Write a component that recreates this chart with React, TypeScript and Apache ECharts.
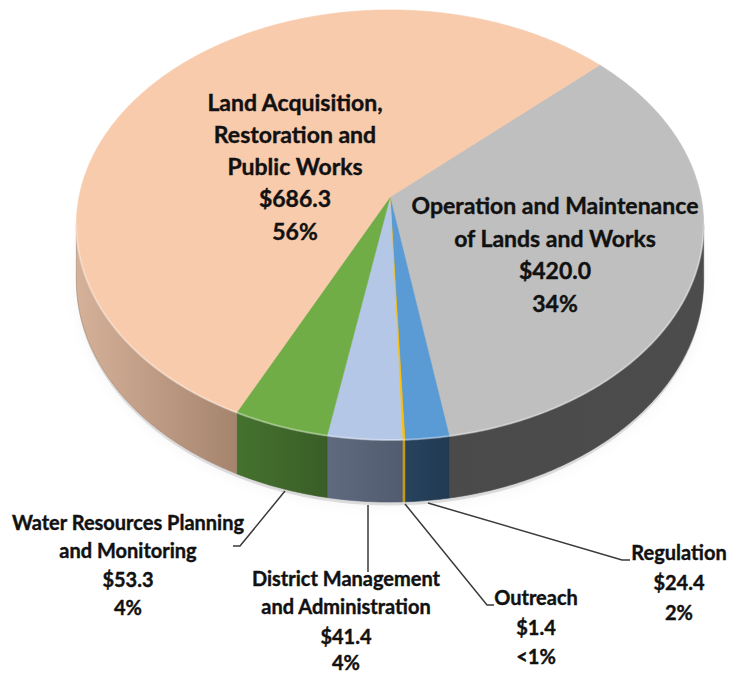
import React, { useEffect, useRef } from "react";
import * as echarts from "echarts";

// ---- data (clockwise from the top-right boundary) ----
const categories = [
  "Operation and Maintenance of Lands and Works",
  "Regulation",
  "Outreach",
  "District Management and Administration",
  "Water Resources Planning and Monitoring",
  "Land Acquisition, Restoration and Public Works",
];
const labelNameLines = [
  ["Operation and Maintenance", "of Lands and Works"],
  ["Regulation"],
  ["Outreach"],
  ["District Management", "and Administration"],
  ["Water Resources Planning", "and Monitoring"],
  ["Land Acquisition,", "Restoration and", "Public Works"],
];
const values = [420.0, 24.4, 1.4, 41.4, 53.3, 686.3];
const percentLabels = ["34%", "2%", "<1%", "4%", "4%", "56%"];

// ---- styles / layout ----
const topColors = ["#BFBFBF", "#5B9BD5", "#FFC000", "#B4C7E7", "#70AD47", "#F8CBAD"];
const sideColors = [
  ["#4a4a4a", "#4c4c4c"],
  ["#27435e", "#223a52"],
  ["#c99a10", "#c99a10"],
  ["#5f6a80", "#525c70"],
  ["#45722e", "#3a5d27"],
  ["#d6b199", "#a5846e"],
];
const labelLayout = [
  { x: 555, ys: [205, 237.5, 270, 302.5], size: 23 },
  { x: 679, ys: [552, 582, 612], size: 20 },
  { x: 536, ys: [597, 627, 656], size: 20 },
  { x: 346, ys: [578, 606, 636, 662], size: 20 },
  { x: 128, ys: [522, 550, 579, 607], size: 20 },
  { x: 295, ys: [102, 133.5, 165.5, 198, 231], size: 23 },
];
const leaderLines: (number[][] | null)[] = [
  null,
  [[428, 503], [622, 560], [630, 560]],
  [[405, 504], [487, 605], [494, 605]],
  [[368, 505], [368, 572]],
  [[285, 491], [240, 546], [233, 546]],
  null,
];

const CX = 390, CY = 197, AX = 311, BY = 211.4, K = 0.13, DEPTH = 54;
const START_DEG = -42.8;
const FONT = "Lato, 'Open Sans', sans-serif";

function proj(theta: number, drop = 0): number[] {
  const u = Math.cos(theta), v = Math.sin(theta);
  const w = 1 - K * v;
  return [CX + (AX * u) / w, CY + (BY * v + drop) / w];
}

export default function App() {
  const ref = useRef<HTMLDivElement>(null);
  useEffect(() => {
    if (!ref.current) return;
    const chart = echarts.init(ref.current, undefined, { renderer: "svg" });
    const total = values.reduce((a, b) => a + b, 0);
    const starts: number[] = [];
    let acc = START_DEG;
    values.forEach((v) => {
      starts.push(acc);
      acc += (v / total) * 360;
    });
    const rad = (d: number) => (d * Math.PI) / 180;
    const visA = rad(7.5), visB = rad(172.5);

    const renderItem = (params: any) => {
      const i = params.dataIndex;
      const a1 = rad(starts[i]);
      const a2 = rad(starts[i] + (values[i] / total) * 360);
      const children: any[] = [];
      const top: number[][] = [[CX, CY]];
      const n = Math.max(2, Math.ceil((a2 - a1) / rad(0.5)));
      for (let s = 0; s <= n; s++) top.push(proj(a1 + ((a2 - a1) * s) / n));
      const b1 = Math.max(a1, visA), b2 = Math.min(a2, visB);
      if (b2 > b1) {
        const m = Math.max(2, Math.ceil((b2 - b1) / rad(0.5)));
        const upper: number[][] = [], lower: number[][] = [];
        for (let s = 0; s <= m; s++) {
          const t = b1 + ((b2 - b1) * s) / m;
          upper.push(proj(t));
          lower.push(proj(t, DEPTH));
        }
        const pts = upper.concat(lower.slice().reverse());
        const c = sideColors[i];
        children.push({
          type: "polygon",
          z2: 1,
          shape: { points: pts },
          style: {
            fill: new echarts.graphic.LinearGradient(0, 0, 1, 0, [
              { offset: 0, color: c[0] },
              { offset: 1, color: c[1] },
            ]),
            stroke: c[1],
            lineWidth: 0.6,
          },
        });
        children.push({
          type: "polyline",
          z2: 12,
          shape: { points: upper.slice() },
          style: { stroke: "rgba(255,255,255,0.35)", lineWidth: 2, fill: null },
        });
      }
      children.push({
        type: "polygon",
        z2: 10,
        shape: { points: top },
        style: { fill: topColors[i], stroke: topColors[i], lineWidth: 0.6 },
      });
      return { type: "group", children };
    };

    const shadowPts: number[][] = [];
    for (let s = 0; s <= 360; s += 2) shadowPts.push(proj(rad(s), DEPTH + 3));

    const graphics: any[] = [
      {
        type: "polygon",
        z: -1,
        shape: { points: shadowPts },
        style: {
          fill: "rgba(0,0,0,0.12)",
          shadowBlur: 14,
          shadowColor: "rgba(0,0,0,0.35)",
        },
      },
    ];
    leaderLines.forEach((pts) => {
      if (!pts) return;
      graphics.push({
        type: "polyline",
        z: 20,
        shape: { points: pts },
        style: { stroke: "#3a3a3a", lineWidth: 1.5, fill: null },
      });
    });
    values.forEach((v, i) => {
      const L = labelLayout[i];
      const lines = labelNameLines[i].concat(["$" + v.toFixed(1), percentLabels[i]]);
      lines.forEach((t, j) => {
        graphics.push({
          type: "text",
          z: 21,
          x: L.x,
          y: L.ys[j],
          style: {
            text: t,
            font: `bold ${L.size}px ${FONT}`,
            fill: "#111",
            stroke: "#111",
            lineWidth: 0.4,
            align: "center",
            verticalAlign: "middle",
          },
        });
      });
    });

    chart.setOption({
      animation: false,
      backgroundColor: "#ffffff",
      series: [
        {
          type: "custom",
          name: "Expenditures",
          coordinateSystem: "none",
          renderItem,
          data: values.map((v, i) => ({ name: categories[i], value: v })),
          z: 2,
        },
      ],
      graphic: graphics,
    });
    return () => chart.dispose();
  }, []);
  return (
    <div
      ref={ref}
      style={{ position: "fixed", left: 0, top: 0, width: 733, height: 673 }}
    />
  );
}
